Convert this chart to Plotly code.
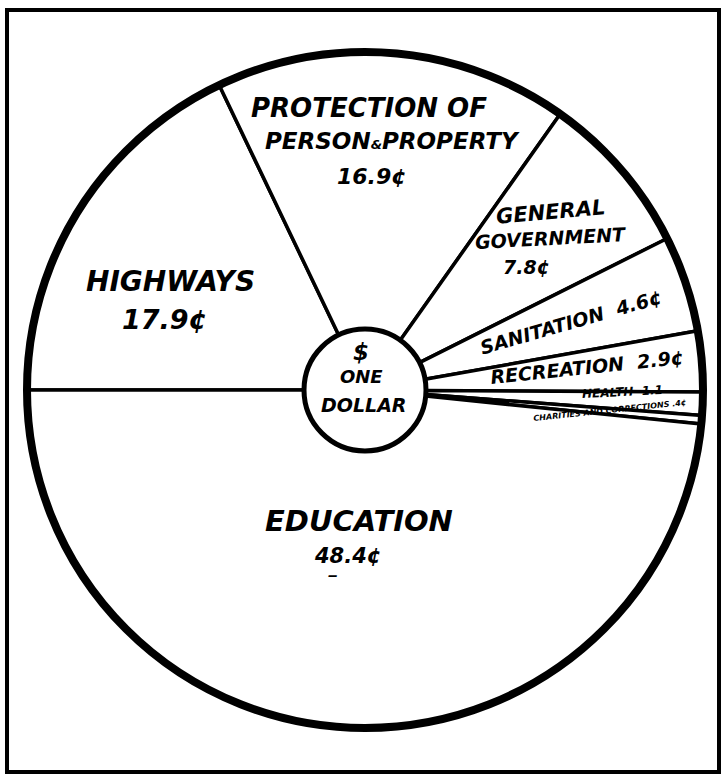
import plotly.graph_objects as go

# Data (cents of one dollar), order: clockwise from 9 o'clock
categories = ["Highways", "Protection of Person & Property", "General Government",
              "Sanitation", "Recreation", "Health", "Charities & Corrections", "Education"]
values = [17.9, 16.9, 7.8, 4.6, 2.9, 1.1, 0.4, 48.4]

W, H = 722, 778
cx, cy, R = 365, 390, 338          # pixel centre / radius of pie
hole_r = 61

def dom(cx, cy, r):
    return dict(x=[(cx - r) / W, (cx + r) / W],
                y=[(H - cy - r) / H, (H - cy + r) / H])

fig = go.Figure()
fig.add_trace(go.Pie(
    labels=categories, values=values, sort=False, direction="clockwise",
    rotation=270, hole=hole_r / R, domain=dom(cx, cy, R),
    marker=dict(colors=["white"] * len(values), line=dict(color="black", width=3.5)),
    textinfo="none", hoverinfo="label+value", showlegend=False))
# thick outer rim
fig.add_trace(go.Pie(
    values=[1], domain=dom(cx, cy, R), sort=False,
    marker=dict(colors=["rgba(0,0,0,0)"], line=dict(color="black", width=8)),
    textinfo="none", hoverinfo="skip", showlegend=False))
# centre disc
fig.add_trace(go.Pie(
    values=[1], domain=dom(cx, cy, hole_r), sort=False,
    marker=dict(colors=["white"], line=dict(color="black", width=5)),
    textinfo="none", hoverinfo="skip", showlegend=False))

FONT = "DejaVu Sans"
def lab(text, x, y, size, angle=0):
    fig.add_annotation(text=f"<b><i>{text}</i></b>", x=x / W, y=1 - y / H,
                       xref="paper", yref="paper", showarrow=False, textangle=angle,
                       xanchor="center", yanchor="middle",
                       font=dict(family=FONT, size=size, color="black"))

lab("PROTECTION OF", 369, 108, 26)
lab("PERSON<span style='font-size:13px'>&amp;</span>PROPERTY", 392, 141, 23)
lab("16.9¢", 372, 176, 22)
lab("GENERAL", 550, 212, 21, -5)
lab("GOVERNMENT", 551, 238, 19, -3)
lab("7.8¢", 526, 267, 19)
lab("SANITATION  4.6¢", 571, 322, 19, -16)
lab("RECREATION  2.9¢", 587, 367, 19, -6)
lab("HEALTH  1.1", 622, 392, 12, -3)
lab("CHARITIES AND CORRECTIONS .4¢", 610, 410, 8, -6)
lab("HIGHWAYS", 170, 282, 28)
lab("17.9¢", 164, 319, 27)
lab("EDUCATION", 359, 521, 29)
lab("48.4¢", 347, 556, 21)
lab("‒", 333, 575, 14)
lab("$", 361, 352, 23)
lab("ONE", 361, 376, 18)
lab("DOLLAR", 363, 405, 19)

fig.add_shape(type="rect", xref="paper", yref="paper",
              x0=7 / W, x1=719 / W, y0=1 - 772 / H, y1=1 - 10 / H,
              line=dict(color="black", width=4))

fig.update_layout(width=W, height=H, margin=dict(l=0, r=0, t=0, b=0),
                  paper_bgcolor="white", plot_bgcolor="white")
fig.write_html("out.html", config={"displayModeBar": False},
               post_script="document.body.style.margin='0';document.body.style.overflow='hidden';")
